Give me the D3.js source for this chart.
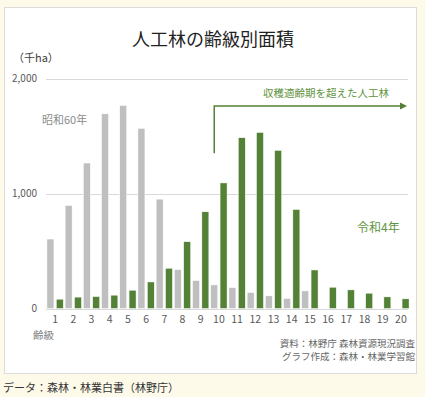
<!DOCTYPE html>
<html>
<head>
<meta charset="utf-8">
<script src="https://cdn.jsdelivr.net/npm/d3@7"></script>
<style>
  body { margin: 0; background: #fdfae9; }
  svg { display: block; font-family: "Noto Sans CJK JP", "Noto Sans", sans-serif; }
</style>
</head>
<body>
<div id="chart"></div>
<script>
// 齢級 1..20
const classes = d3.range(1, 21).map(String);
// 昭和60年 (千ha)
const showa60 = [604, 896, 1265, 1693, 1765, 1566, 951, 338, 243, 205, 182, 139, 110, 87, 153, 0, 0, 0, 0, 0];
// 令和4年 (千ha)
const reiwa4 = [81, 99, 104, 116, 159, 231, 350, 581, 841, 1092, 1485, 1531, 1375, 861, 335, 185, 162, 133, 101, 84];
const yTicks = [0, 1000, 2000];
const seriesKeys = ["s60", "r4"];

const width = 425, height = 397;
const gray = "#bfbfbf", green = "#538135", greenText = "#5f9440";

const svg = d3.select("#chart").append("svg")
  .attr("width", width)
  .attr("height", height);

// panel
svg.append("rect")
  .attr("x", 4.5).attr("y", 7.5)
  .attr("width", 412).attr("height", 366)
  .attr("fill", "#fff")
  .attr("stroke", "#dcdcdc");

const x = d3.scaleBand().domain(classes).range([46, 410]);
const xSub = d3.scaleBand().domain(seriesKeys).range([0, x.bandwidth()])
  .paddingInner(0.25).paddingOuter(0.1);
const y = d3.scaleLinear().domain([0, 2000]).range([308.5, 78.5]);

// gridlines
svg.append("g").selectAll("line")
  .data(yTicks)
  .enter().append("line")
  .attr("x1", 46).attr("x2", 408)
  .attr("y1", d => Math.round(y(d)) + 0.5)
  .attr("y2", d => Math.round(y(d)) + 0.5)
  .attr("stroke", "#d9d9d9");

// y tick labels
svg.append("g").selectAll("text")
  .data(yTicks)
  .enter().append("text")
  .attr("x", 37)
  .attr("y", d => y(d))
  .attr("dy", "0.35em")
  .attr("text-anchor", "end")
  .style("font-size", "10px")
  .style("fill", "#595959")
  .text(d => d3.format(",")(d));

// bars
const rows = classes.map((c, i) => ({ c, s60: showa60[i], r4: reiwa4[i] }));
const groups = svg.append("g").selectAll("g")
  .data(rows)
  .enter().append("g")
  .attr("transform", d => `translate(${x(d.c)},0)`);

groups.selectAll("rect")
  .data(d => seriesKeys.map(k => ({ k, v: d[k] })).filter(e => e.v > 0))
  .enter().append("rect")
  .attr("x", d => xSub(d.k))
  .attr("width", xSub.bandwidth())
  .attr("y", d => y(d.v))
  .attr("height", d => y(0) - y(d.v))
  .attr("fill", d => d.k === "s60" ? gray : green)
  .attr("stroke", "#fff")
  .attr("stroke-width", 0.5);

// x tick labels
svg.append("g").selectAll("text")
  .data(classes)
  .enter().append("text")
  .attr("x", d => x(d) + x.bandwidth() / 2)
  .attr("y", 319)
  .attr("dy", "0.35em")
  .attr("text-anchor", "middle")
  .style("font-size", "10.5px")
  .style("fill", "#595959")
  .text(d => d);

// title and axis labels
svg.append("text")
  .attr("x", 213).attr("y", 46)
  .attr("text-anchor", "middle")
  .style("font-size", "18px")
  .style("fill", "#222")
  .text("人工林の齢級別面積");

svg.append("text")
  .attr("x", 13).attr("y", 62)
  .style("font-size", "11px")
  .style("fill", "#404040")
  .text("（千ha）");

svg.append("text")
  .attr("x", 33).attr("y", 339)
  .style("font-size", "10.5px")
  .style("fill", "#7f7f7f")
  .text("齢級");

// series labels
svg.append("text")
  .attr("x", 42).attr("y", 124)
  .style("font-size", "11px")
  .style("fill", "#8c8c8c")
  .text("昭和60年");

svg.append("text")
  .attr("x", 357).attr("y", 232)
  .style("font-size", "12px")
  .style("fill", greenText)
  .text("令和4年");

// harvest-age annotation arrow from class 10
const ax = x("10") + xSub("s60") + xSub.bandwidth() / 2;
svg.append("defs").append("marker")
  .attr("id", "arrow")
  .attr("viewBox", "0 0 10 10")
  .attr("refX", 2).attr("refY", 5)
  .attr("markerWidth", 5).attr("markerHeight", 5)
  .attr("orient", "auto")
  .append("path")
  .attr("d", "M0,0L10,5L0,10Z")
  .attr("fill", green);

svg.append("path")
  .attr("d", `M${ax},${y(1350)}V${y(1760)}H${x("20") + x.bandwidth() - 9}`)
  .attr("fill", "none")
  .attr("stroke", green)
  .attr("stroke-width", 1.5)
  .attr("marker-end", "url(#arrow)");

svg.append("text")
  .attr("x", 263).attr("y", 97)
  .style("font-size", "10.5px")
  .style("fill", greenText)
  .text("収穫適齢期を超えた人工林");

// source notes
svg.append("text")
  .attr("x", 415).attr("y", 347)
  .attr("text-anchor", "end")
  .style("font-size", "9.5px")
  .style("fill", "#666")
  .text("資料：林野庁 森林資源現況調査");

svg.append("text")
  .attr("x", 415).attr("y", 360)
  .attr("text-anchor", "end")
  .style("font-size", "9.5px")
  .style("fill", "#666")
  .text("グラフ作成：森林・林業学習館");

svg.append("text")
  .attr("x", 3).attr("y", 392)
  .style("font-size", "11px")
  .style("fill", "#333")
  .text("データ：森林・林業白書（林野庁）");
</script>
</body>
</html>
